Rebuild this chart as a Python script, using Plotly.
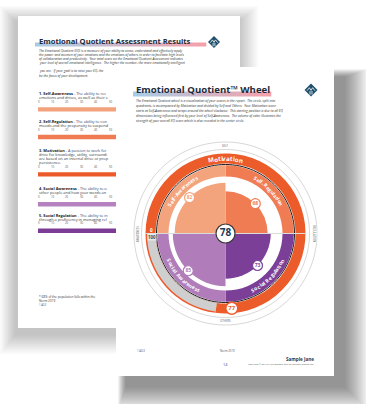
import math
import plotly.graph_objects as go

W, H = 366, 404

# ---------------- data ----------------
quadrant_names = ["Self-Regulation", "Social Regulation", "Social Awareness", "Self-Awareness"]
quadrant_scores = [68, 73, 85, 82]
quadrant_colors = ["#ef7c52", "#7b3f97", "#b17cba", "#f4a47d"]
motivation_score = 77
overall_eq = 78
axis_labels = ["SELF", "REGULATION", "OTHERS", "AWARENESS"]

front_title = "Emotional Quotient™ Wheel"
front_intro = [
    "The Emotional Quotient wheel is a visualization of your scores in the report.  The circle, split into",
    "quadrants, is accompanied by Motivation and divided by Self and Others.  Your Motivation score",
    "starts at Self-Awareness and wraps around the wheel clockwise.  This starting position is due to all EQ",
    "dimensions being influenced first by your level of Self-Awareness.  The volume of color illustrates the",
    "strength of your overall EQ score which is also revealed in the center circle.",
]
back_title = "Emotional Quotient Assessment Results"
back_intro = [
    "The Emotional Quotient (EQ) is a measure of your ability to sense, understand and effectively apply",
    "the power and acumen of your emotions and the emotions of others in order to facilitate high levels",
    "of collaboration and productivity.  Your total score on the Emotional Quotient Assessment indicates",
    "your level of overall emotional intelligence.  The higher the number, the more emotionally intelligent",
    "you are.  If your goal is to raise your EQ, the",
    "be the focus of your development.",
]
section_heads = ["1. Self-Awareness", "2. Self-Regulation", "3. Motivation", "4. Social Awareness", "5. Social Regulation"]
section_leads = [" - The ability to rec", " - The ability to con", " - A passion to work for",
                 " - The ability to u", " - The ability to in"]
section_more = [
    ["emotions and drives, as well as their e"],
    ["moods and the propensity to suspend"],
    ["drive for knowledge, utility, surroundi", "are based on an internal drive or prop", "persistence."],
    ["other people and how your words an"],
    ["through a proficiency in managing rel"],
]
section_colors = ["#f4a27c", "#ef7b52", "#ec5a2a", "#b582bf", "#7c3c96"]
scale_ticks = [0, 10, 20, 30, 40, 50]
footnote = ["* 68% of the population falls within the", "Norm 2019", "1 AG3"]

# ---------------- geometry helpers ----------------
def X(x):
    return x / W

def Y(y):
    return 1 - y / H

shapes = []
annotations = []


def rect(x0, y0, x1, y1, fill, line=None, lw=0):
    shapes.append(dict(type="rect", xref="paper", yref="paper", x0=X(x0), x1=X(x1), y0=Y(y1), y1=Y(y0),
                       fillcolor=fill, line=dict(color=line or "rgba(0,0,0,0)", width=lw), layer="below"))


def text(x, y, s, size, color="#333", xanchor="left", angle=0, family="Open Sans", bg=None):
    a = dict(x=X(x), y=Y(y), xref="paper", yref="paper", text=s, showarrow=False,
             font=dict(size=size, color=color, family=family), xanchor=xanchor, yanchor="middle",
             textangle=angle, borderpad=0)
    if bg:
        a["bgcolor"] = bg
    annotations.append(a)


def shadow(x0, y0, x1, y1, dx, dy, grow_lt, grow_rb, alpha, n):
    for i in range(n):
        t = (i + 1) / n
        rect(x0 + dx - grow_lt * t, y0 + dy - grow_lt * t, x1 + dx + grow_rb * t, y1 + dy + grow_rb * t,
             "rgba(0,0,0,%.3f)" % alpha)


def hexmix(c1, c2, t):
    a = [int(c1[i:i + 2], 16) for i in (1, 3, 5)]
    b = [int(c2[i:i + 2], 16) for i in (1, 3, 5)]
    return "#%02x%02x%02x" % tuple(round(a[k] + (b[k] - a[k]) * t) for k in range(3))


def highlight(x0, x1, y0, y1):
    n = 24
    for i in range(n):
        xa = x0 + (x1 - x0) * i / n
        xb = x0 + (x1 - x0) * (i + 1) / n + 0.3
        rect(xa, y0, xb, y1, hexmix("#a8cbe4", "#f4a0aa", i / (n - 1)))


def logo(cx, cy, s):
    shapes.append(dict(type="path", xref="paper", yref="paper", layer="below",
                       path="M %f,%f L %f,%f L %f,%f L %f,%f Z" % (X(cx), Y(cy - s), X(cx + s), Y(cy),
                                                                  X(cx), Y(cy + s), X(cx - s), Y(cy)),
                       fillcolor="#1f4f6b", line=dict(width=0)))
    shapes.append(dict(type="path", xref="paper", yref="paper", layer="below",
                       path="M %f,%f L %f,%f L %f,%f L %f,%f L %f,%f" % (
                           X(cx - s * 0.6), Y(cy + s * 0.1), X(cx - s * 0.25), Y(cy - s * 0.35),
                           X(cx), Y(cy + s * 0.05), X(cx + s * 0.25), Y(cy - s * 0.35), X(cx + s * 0.6), Y(cy + s * 0.1)),
                       line=dict(color="white", width=0.8)))
    shapes.append(dict(type="path", xref="paper", yref="paper", layer="below",
                       path="M %f,%f L %f,%f M %f,%f L %f,%f" % (
                           X(cx - s * 0.15), Y(cy + s * 0.15), X(cx - s * 0.15), Y(cy + s * 0.7),
                           X(cx + s * 0.15), Y(cy + s * 0.15), X(cx + s * 0.15), Y(cy + s * 0.7)),
                       line=dict(color="white", width=0.8)))

# ---------------- pages ----------------
BP = (18, 16, 240, 328)
FP = (116, 67, 334, 376)

shadow(*BP, -2, 6, 16, 20, 0.02, 12)
rect(*BP, "#ffffff")

# back page content
text(38, 41, "<b>" + back_title + "</b>", 7.6, "#1d2b3a")
highlight(35, 206, 42.5, 46.5)
logo(214, 42, 6)
intro_y = [50, 54.2, 58.4, 62.6, 70.8, 75.6]
for s, y in zip(back_intro, intro_y):
    text(38, y, "<i>" + s + "</i>", 3.3, "#333")

sec_title_y = [93.7, 121.3, 150.5, 188.5, 215]
for k in range(len(section_heads)):
    y = sec_title_y[k]
    text(38, y, "<b>" + section_heads[k] + "</b><span style='color:#2c4472'>" + section_leads[k] + "</span>", 3.9, "#222")
    for j, s in enumerate(section_more[k]):
        y += 4.1
        text(38, y, s, 3.9, "#333")
    y += 4.3
    for t in scale_ticks:
        text(38.5 + t * 1.44, y, str(t), 2.8, "#555", xanchor="center")
    rect(38, y + 5.1, 182, y + 9.5, section_colors[k])

text(38, 296.5, footnote[0], 3.1, "#333")
text(38, 300.5, footnote[1], 3.1, "#333")
text(38, 304.5, footnote[2], 2.6, "#555")

# front page
shadow(*FP, 10, 10, 8, 24, 0.035, 14)
rect(*FP, "#ffffff")
highlight(133, 271, 91.5, 96.5)
text(135, 89.5, "<b>" + front_title + "</b>", 9.6, "#1d2b3a")
logo(311, 90, 6.5)
for i, s in enumerate(front_intro):
    text(135, 100 + i * 5, "<i>" + s + "</i>", 3.3, "#333")

text(136, 351, "1 AG3", 2.8, "#555")
text(227, 351, "Norm 2019", 2.8, "#555", xanchor="center")
text(315, 358.5, "<b>Sample Jane</b>", 4.6, "#1d3b56", xanchor="right")
text(225, 364, "14", 3.8, "#3a3a7a", xanchor="center")
text(315, 364, "Copyright © 2019 by Jan Zapponi and TTI Success Insights Ltd.", 2.3, "#555", xanchor="right")

# ---------------- wheel ----------------
CX, CY, R = 225.5, 233.5, 100.0
K = 0.62  # pixels per score unit


def u(px):
    return px / K


fig = go.Figure()

quad_theta = [45 + 90 * i for i in range(4)]

# motivation ring
start = 270.0
span = motivation_score / 100 * 360
fig.add_trace(go.Barpolar(r=[u(10)], base=[u(70)], theta=[start + span / 2], width=[span],
                          marker=dict(color="#ec5b2a", line=dict(width=0)), hoverinfo="skip"))
fig.add_trace(go.Barpolar(r=[u(10)], base=[u(70)], theta=[start - (360 - span) / 2], width=[360 - span],
                          marker=dict(color="#ec5b2a", line=dict(width=0)), hoverinfo="skip"))
fig.add_trace(go.Barpolar(r=[u(8.5)], base=[u(70)], theta=[start - (360 - span) / 2], width=[360 - span],
                          marker=dict(color="#cfcfcf", line=dict(width=0)), hoverinfo="skip"))
# quadrant band
fig.add_trace(go.Barpolar(r=[u(11.3)] * 4, base=[u(57)] * 4, theta=quad_theta, width=[90] * 4,
                          marker=dict(color=quadrant_colors, line=dict(width=0)), hoverinfo="skip"))
# quadrant pies
fig.add_trace(go.Barpolar(r=quadrant_scores, base=[0] * 4, theta=quad_theta, width=[90] * 4,
                          marker=dict(color=quadrant_colors, line=dict(width=0)), hoverinfo="skip"))

circ = list(range(0, 361, 3))
fig.add_trace(go.Scatterpolar(r=[u(69)] * len(circ), theta=circ, mode="lines",
                              line=dict(color="#1a1a1a", width=1), hoverinfo="skip"))
for rr in (84, 91.5):
    fig.add_trace(go.Scatterpolar(r=[u(rr)] * len(circ), theta=circ, mode="lines",
                                  line=dict(color="#cdcdcd", width=0.8), hoverinfo="skip"))
fig.add_trace(go.Scatterpolar(r=[u(80), 0, u(80)], theta=[270, 0, 90], mode="lines",
                              line=dict(color="#dcdcdc", width=1), hoverinfo="skip"))

# value markers
fig.add_trace(go.Scatterpolar(r=quadrant_scores, theta=quad_theta, mode="markers+text",
                              marker=dict(size=10, color="white", line=dict(color=quadrant_colors, width=1.2)),
                              text=["<b>%d</b>" % v for v in quadrant_scores], textposition="middle center",
                              textfont=dict(size=5, color=quadrant_colors), hoverinfo="skip"))
fig.add_trace(go.Scatterpolar(r=[u(75)], theta=[(start + span - 12) % 360], mode="markers+text",
                              marker=dict(size=12, color="white", line=dict(color="#ec5b2a", width=1.5)),
                              text=["<b>%d</b>" % motivation_score], textposition="middle center",
                              textfont=dict(size=6, color="#ec5b2a"), hoverinfo="skip"))
fig.add_trace(go.Scatterpolar(r=[0], theta=[0], mode="markers+text",
                              marker=dict(size=19, color="white", line=dict(color="#3a3a3a", width=1.2)),
                              text=["<b>%d</b>" % overall_eq], textposition="middle center",
                              textfont=dict(size=10, color="#1e3a56"), hoverinfo="skip"))


def pol(rpx, deg):
    a = math.radians(deg)
    return CX + rpx * math.sin(a), CY - rpx * math.cos(a)


def cw(c, fs):
    if c == " ":
        return 0.3 * fs
    if c in "il.,'":
        return 0.32 * fs
    if c in "tfrj-I":
        return 0.45 * fs
    if c in "mwMW":
        return 0.9 * fs
    if c.isupper():
        return 0.72 * fs
    return 0.62 * fs


def arc_text(s, rpx, center, fs, color, top=True):
    ws = [cw(c, fs) for c in s]
    tot = math.degrees(sum(ws) / rpx)
    acc = 0
    for c, w in zip(s, ws):
        mid = acc + w / 2
        acc += w
        off = math.degrees(mid / rpx) - tot / 2
        if top:
            a = center + off
            rot = a
        else:
            a = center - off
            rot = a - 180
        rot = (rot + 180) % 360 - 180
        x, y = pol(rpx, a)
        if c != " ":
            text(x, y, "<b>" + c + "</b>", fs, color, xanchor="center", angle=rot)


arc_text("Motivation", 75, 0, 6.2, "white", top=True)
for name, th in zip(quadrant_names, quad_theta):
    arc_text(name, 62.7, th, 5.0, "white", top=(th in (45, 315)))

# outer axis labels
lab_pos = [(0, 0), (90, 90), (180, 0), (270, -90)]
for lab, (th, rot) in zip(axis_labels, lab_pos):
    x, y = pol(87.8, th)
    text(x, y, lab, 2.8, "#666", xanchor="center", angle=rot, bg="white")

x0, y0 = pol(75, 270)
text(x0 + 1, y0 - 3, "<b>0</b>", 4.6, "white", xanchor="center")
text(x0 + 1, y0 + 3.4, "<b>100</b>", 4.4, "#444", xanchor="center", bg="#e8e8e8")

fig.update_layout(
    width=W, height=H, margin=dict(l=0, r=0, t=0, b=0),
    paper_bgcolor="white", plot_bgcolor="white", showlegend=False,
    font=dict(family="Open Sans"),
    shapes=shapes, annotations=annotations,
    polar=dict(
        domain=dict(x=[(CX - R) / W, (CX + R) / W], y=[1 - (CY + R) / H, 1 - (CY - R) / H]),
        bgcolor="rgba(0,0,0,0)", hole=0,
        radialaxis=dict(visible=False, range=[0, u(R)]),
        angularaxis=dict(visible=False, rotation=90, direction="clockwise"),
    ),
)

fig.write_html("out.html")
